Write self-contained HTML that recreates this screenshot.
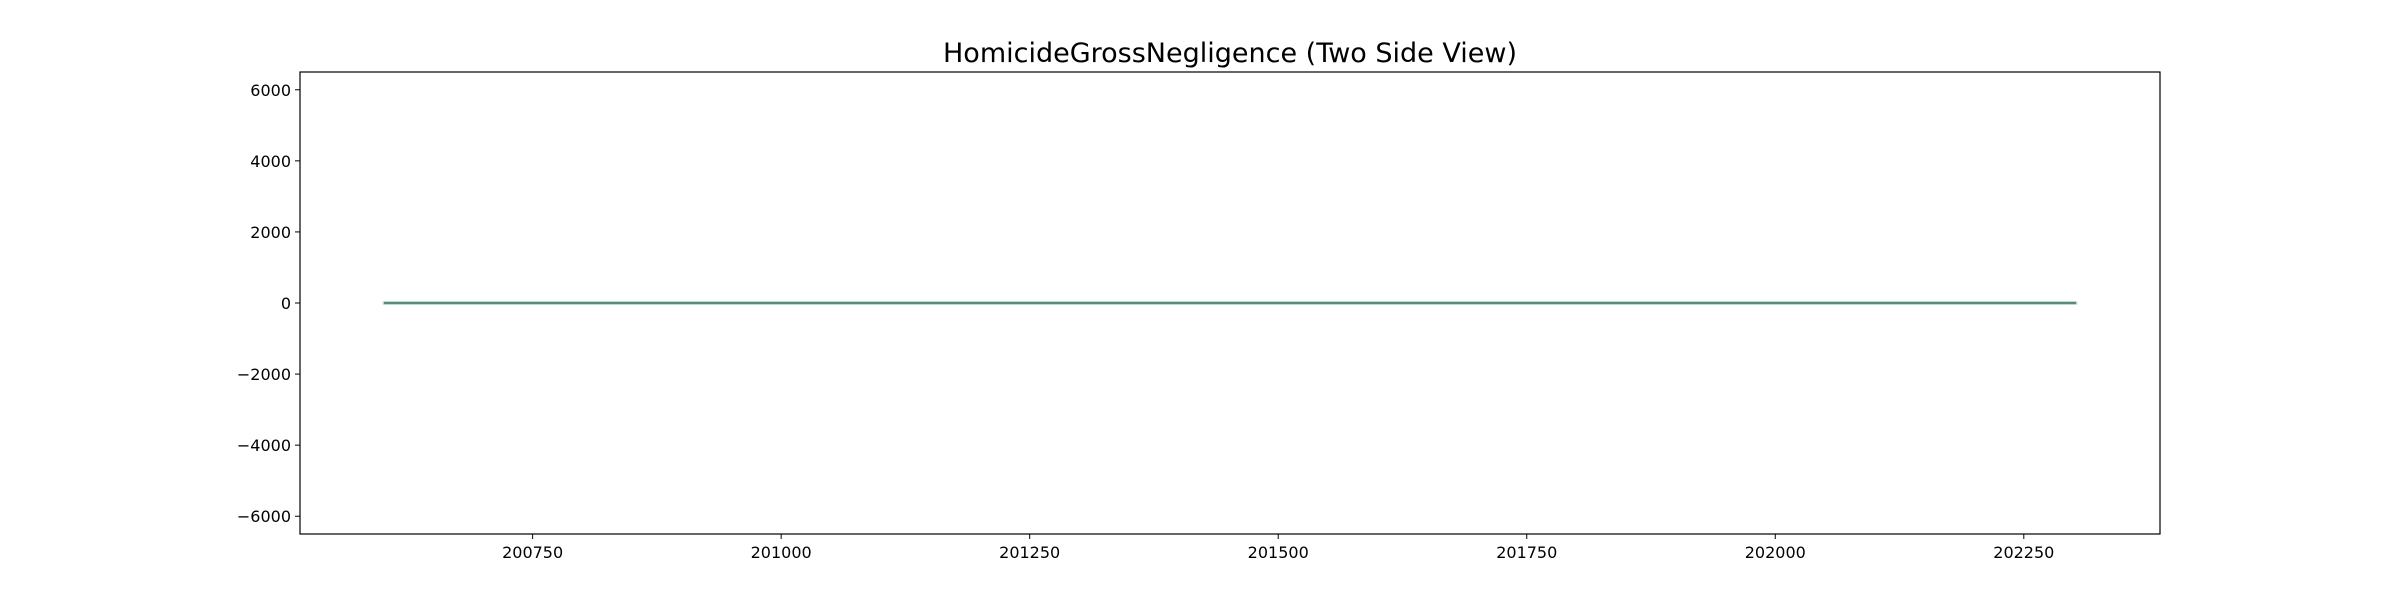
<!DOCTYPE html>
<html><head><meta charset="utf-8"><style>
html,body{margin:0;padding:0;background:#fff;}
svg text{font-family:"DejaVu Sans","Liberation Sans",sans-serif;fill:#000;}
</style></head><body>
<svg id="chart" width="2400" height="600" xmlns="http://www.w3.org/2000/svg">
<text x="1230" y="62" font-size="27" text-anchor="middle">HomicideGrossNegligence (Two Side View)</text>
<g id="plot"></g>
</svg>
<script>
const xValues = [200601,200701,200801,200901,201001,201101,201201,201301,201401,201501,201601,201701,201801,201901,202001,202101,202201,202302];
const positiveSide = [0,0,0,0,0,0,0,0,0,0,0,0,0,0,0,0,0,0];
const negativeSide = [0,0,0,0,0,0,0,0,0,0,0,0,0,0,0,0,0,0];
const xTicks = [200750,201000,201250,201500,201750,202000,202250];
const yTicks = [6000,4000,2000,0,-2000,-4000,-6000];

const L=300,R=2160,T=72,B=534;
const xmin=200516,xmax=202387,ymin=-6500,ymax=6500;
const sx=v=>L+(v-xmin)/(xmax-xmin)*(R-L);
const sy=v=>B-(v-ymin)/(ymax-ymin)*(B-T);
const NS="http://www.w3.org/2000/svg";
const g=document.getElementById('plot');
function mk(tag,attrs){const e=document.createElementNS(NS,tag);for(const k in attrs)e.setAttribute(k,attrs[k]);g.appendChild(e);return e;}

function line(vals,color,w,name){
  const d=xValues.map((x,i)=>(i?'L':'M')+sx(x).toFixed(1)+','+sy(vals[i]).toFixed(1)).join('');
  const p=mk('path',{d:d,fill:'none',stroke:color,'stroke-width':w,'stroke-linecap':'round'});
  
  
}
line(positiveSide,'#b5e0c8',4,'series-positive-line');
line(negativeSide,'#2f5050',1.2,'series-negative-line');

const frame=mk('rect',{x:L,y:T,width:R-L,height:B-T,fill:'none',stroke:'#000','stroke-width':1.2});



xTicks.forEach(t=>{
  const x=sx(t);
  const tk=mk('line',{x1:x,x2:x,y1:B,y2:B+5,stroke:'#000','stroke-width':1});
  
  
  const lb=mk('text',{x:x,y:B+24,'font-size':16,'text-anchor':'middle'});
  lb.textContent=String(t);
  
  
});
yTicks.forEach(t=>{
  const y=sy(t);
  const tk=mk('line',{x1:L-5,x2:L,y1:y,y2:y,stroke:'#000','stroke-width':1});
  
  
  const lb=mk('text',{x:L-9,y:y+6,'font-size':16,'text-anchor':'end'});
  lb.textContent=(t<0?'\u2212'+Math.abs(t):String(t));
  
  
});
</script>
</body></html>
